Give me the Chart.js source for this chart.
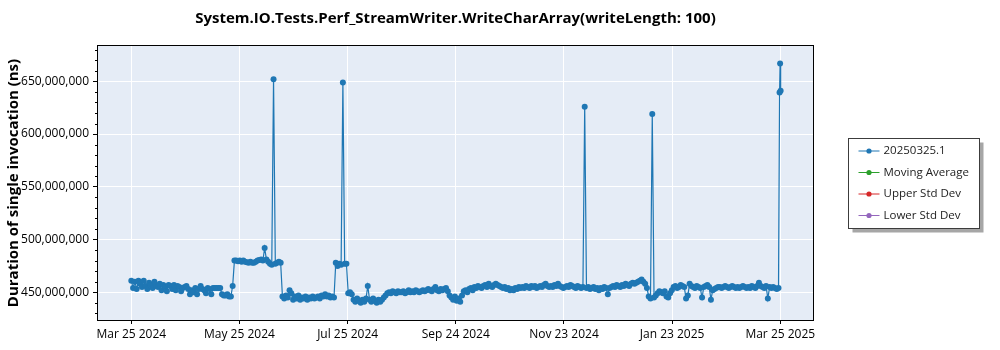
<!DOCTYPE html>
<html>
<head>
<meta charset="utf-8">
<script src="https://cdn.jsdelivr.net/npm/chart.js@4.4.1/dist/chart.umd.min.js"></script>
<style>
  html, body { margin: 0; padding: 0; background: #ffffff; }
  canvas { display: block; }
</style>
</head>
<body>
<canvas id="perfChart" width="1000" height="350"></canvas>
<script>
// ---- chart text ----
const chartTitle = 'System.IO.Tests.Perf_StreamWriter.WriteCharArray(writeLength: 100)';
const yAxisTitle = 'Duration of single invocation (ns)';
const seriesNames = ['20250325.1', 'Moving Average', 'Upper Std Dev', 'Lower Std Dev'];
const seriesColors = ['#1f77b4', '#2ca02c', '#d62728', '#9467bd'];

// ---- measurements: one run per day starting 2024-03-25, in millions of ns ----
const dailyDurationsM = [
  461, 454, 460, 453, 461, 458, 455, 461, 456, 453,
  459, 457, 454, 460, 456, 455, 458, 452, 457, 455,
  451, 457, 456, 453, 457, 452, 456, 455, 451, 454,
  455, 456, 453, 448, 452, 450, 454, 448, 453, 456,
  453, 452, 449, 454, 453, 448, 454, 454, 454, 454,
  454, 448, 447, 447, 448, 446, 446, 456, 480, 480,
  479.5, 480, 479, 480, 479, 478.5, 478, 479, 478, 478,
  479, 480, 480.5, 481, 480, 492, 481, 479, 477, 476,
  652, 477, 478, 479, 478, 446, 444, 447, 445, 452,
  449, 443, 446, 444, 447, 443, 445, 444, 446, 443,
  445, 444, 446, 444, 445, 446, 444, 447, 446, 448,
  446, 447, 445, 446, 445, 478, 475, 477, 476, 649,
  477, 477, 449, 450, 448, 443, 441, 444, 442, 440,
  443, 441, 444, 456, 443, 441, 444, 442, 440, 443,
  441, 443, 445, 447, 449, 450, 449, 451, 450, 449,
  451, 450, 450, 451, 449, 450, 452, 450, 451, 450,
  452, 451, 450, 451, 452, 451, 452, 453, 452, 451,
  453, 455, 452, 451, 453, 452, 453, 454, 451, 447,
  445, 443, 446, 442, 444, 441, 447, 451, 452, 450,
  453, 454, 452, 455, 454, 456, 455, 454, 456, 457,
  455, 458, 456, 455, 457, 458, 457, 456, 455, 454,
  455, 453, 454, 452, 453, 452, 454, 453, 455, 454,
  455, 454, 456, 455, 454, 456, 455, 456, 454, 455,
  456, 455, 457, 458, 456, 455, 456, 455, 457, 456,
  458, 456, 455, 454, 455, 456, 455, 457, 456, 455,
  454, 456, 455, 454, 455, 626, 454, 455, 453, 454,
  455, 453, 454, 452, 454, 453, 455, 454, 448, 454,
  455, 456, 455, 457, 456, 455, 457, 456, 458, 457,
  456, 458, 459, 458, 459, 460, 461, 462, 460, 458,
  454, 446, 444, 619, 445, 447, 449, 451, 450, 449,
  451, 446, 445, 449, 452, 455, 456, 454, 455, 457,
  456, 455, 444, 447, 458, 456, 455, 454, 456, 455,
  454, 445, 455, 456, 457, 455, 443, 452, 453, 454,
  455, 455, 454, 455, 456, 455, 454, 455, 456, 455,
  454, 455, 454, 455, 456, 455, 454, 455, 454, 456,
  455, 454, 456, 459, 456, 455, 454, 456, 444, 455,
  454, 455, 454, 453, 454
];
// repeated runs on the final day (2025-03-25)
const lastDayRunOffsets = [364.6, 364.9, 365.2];
const lastDayDurationsM = [639.5, 667, 641];

// ---- axes ----
const xTickDays = [0, 60.83, 121.67, 182.5, 243.33, 304.17, 365];
const xTickLabels = ['Mar 25 2024', 'May 25 2024', 'Jul 25 2024', 'Sep 24 2024',
                     'Nov 23 2024', 'Jan 23 2025', 'Mar 25 2025'];
const xRangeDays = [-18.73, 383.4];
const yTickValues = [450000000, 500000000, 550000000, 600000000, 650000000];
const yRange = [423700000, 683500000];
const yMinorStep = 10000000;

const FONT = "'Segoe UI', 'Open Sans', 'Noto Sans', sans-serif";

const runPoints = dailyDurationsM.map((v, i) => ({ x: i, y: v * 1e6 }))
  .concat(lastDayRunOffsets.map((d, i) => ({ x: d, y: lastDayDurationsM[i] * 1e6 })));

// plot background, frame, minor ticks and the boxed legend
const plotDecor = {
  id: 'plotDecor',
  beforeDraw(chart) {
    const { ctx, chartArea: a } = chart;
    ctx.save();
    ctx.fillStyle = '#e5ecf6';
    ctx.fillRect(a.left, a.top, a.right - a.left, a.bottom - a.top);
    ctx.restore();
  },
  afterDraw(chart) {
    const { ctx, chartArea: a } = chart;
    const yScale = chart.scales.y;
    ctx.save();
    // frame
    ctx.strokeStyle = '#000';
    ctx.lineWidth = 1;
    ctx.strokeRect(Math.round(a.left) - 0.5, Math.round(a.top) - 0.5,
                   Math.round(a.right - a.left) + 1, Math.round(a.bottom - a.top) + 1);
    // minor ticks on the value axis
    ctx.beginPath();
    for (let v = Math.ceil(yRange[0] / yMinorStep) * yMinorStep; v <= yRange[1]; v += yMinorStep) {
      if (yTickValues.includes(v)) continue;
      const py = Math.round(yScale.getPixelForValue(v)) + 0.5;
      ctx.moveTo(a.left - 3, py);
      ctx.lineTo(a.left, py);
    }
    ctx.stroke();

    // legend
    const sets = chart.data.datasets;
    const boxW = 131, rowH = 21.5, boxH = 90;
    const bx = Math.round(a.right + 35) + 0.5;
    const by = Math.round((a.top + a.bottom) / 2 - boxH / 2) + 0.5;
    ctx.fillStyle = '#a6a6a6';
    ctx.fillRect(bx + 4, by + 4, boxW, boxH);
    ctx.fillStyle = '#ffffff';
    ctx.fillRect(bx, by, boxW, boxH);
    ctx.strokeStyle = '#3c3c3c';
    ctx.strokeRect(bx, by, boxW, boxH);
    ctx.font = '11.5px ' + FONT;
    ctx.textBaseline = 'middle';
    sets.forEach((ds, i) => {
      const cy = by + 12.5 + i * rowH;
      ctx.strokeStyle = ds.borderColor;
      ctx.lineWidth = 1;
      ctx.beginPath();
      ctx.moveTo(bx + 10, cy);
      ctx.lineTo(bx + 31, cy);
      ctx.stroke();
      ctx.fillStyle = ds.borderColor;
      ctx.beginPath();
      ctx.arc(bx + 20.5, cy, 2.6, 0, Math.PI * 2);
      ctx.fill();
      ctx.fillStyle = '#222';
      ctx.fillText(ds.label, bx + 35, cy);
    });
    ctx.restore();
  }
};

new Chart(document.getElementById('perfChart'), {
  type: 'line',
  data: {
    datasets: seriesNames.map((name, i) => ({
      label: name,
      data: i === 0 ? runPoints : [],
      borderColor: seriesColors[i],
      backgroundColor: seriesColors[i],
      borderWidth: 1.2,
      pointRadius: 3,
      pointBorderWidth: 0,
      pointHoverRadius: 3,
      tension: 0,
      fill: false
    }))
  },
  options: {
    responsive: false,
    animation: false,
    devicePixelRatio: 1,
    layout: { padding: { left: 0, right: 187, top: 0, bottom: 0 } },
    plugins: {
      legend: { display: false },
      tooltip: { enabled: false },
      title: {
        display: true,
        text: chartTitle,
        fullSize: false,
        color: '#000',
        font: { family: FONT, size: 15, weight: 'bold' },
        padding: { top: 10, bottom: 18 }
      }
    },
    scales: {
      x: {
        type: 'linear',
        position: 'bottom',
        min: xRangeDays[0],
        max: xRangeDays[1],
        afterBuildTicks: s => { s.ticks = xTickDays.map(v => ({ value: v })); },
        afterFit: s => { s.height = 30; },
        ticks: {
          callback: (v, i) => xTickLabels[i],
          color: '#000',
          font: { family: FONT, size: 12 },
          maxRotation: 0,
          autoSkip: false,
          padding: 3
        },
        grid: { color: '#ffffff', lineWidth: 1, tickColor: '#000', tickLength: 4, drawTicks: true },
        border: { display: false }
      },
      y: {
        type: 'linear',
        min: yRange[0],
        max: yRange[1],
        afterBuildTicks: s => { s.ticks = yTickValues.map(v => ({ value: v })); },
        afterFit: s => { s.width = 98; },
        ticks: {
          callback: v => v.toLocaleString('en-US'),
          color: '#000',
          font: { family: FONT, size: 12 },
          padding: 4
        },
        grid: { color: '#ffffff', lineWidth: 1, tickColor: '#000', tickLength: 5, drawTicks: true },
        border: { display: false },
        title: {
          display: true,
          text: yAxisTitle,
          color: '#000',
          font: { family: FONT, size: 15, weight: 'bold' },
          padding: { top: 5, bottom: 0 }
        }
      }
    }
  },
  plugins: [plotDecor]
});
</script>
</body>
</html>
